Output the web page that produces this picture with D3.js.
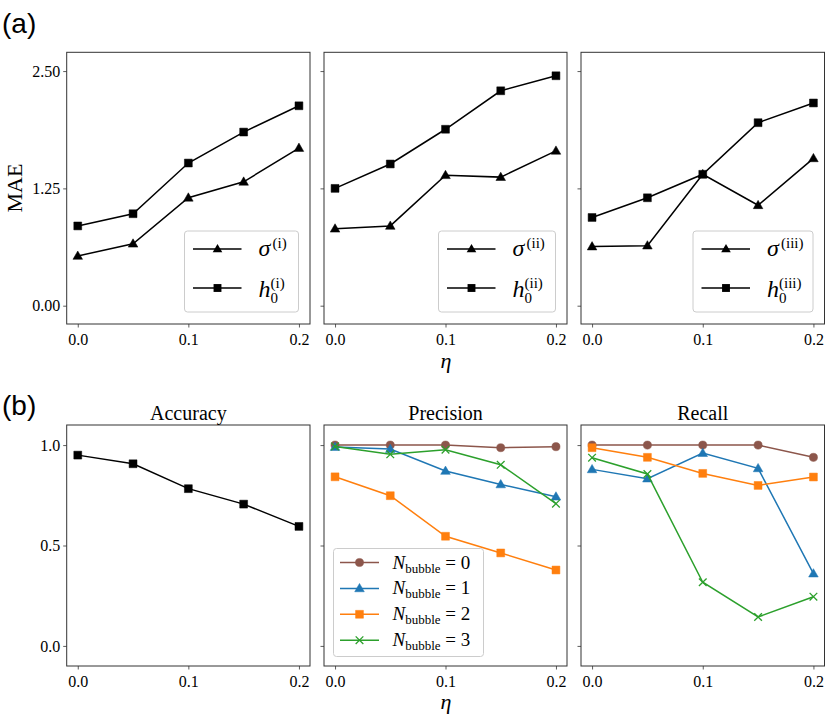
<!DOCTYPE html>
<html><head><meta charset="utf-8">
<script src="https://cdn.jsdelivr.net/npm/d3@7"></script>
<style>body{margin:0;background:#fff}svg{display:block}</style>
</head><body>
<svg id="c" width="830" height="717"></svg>
<script>
// ---- data ----
const etas = [0, 0.05, 0.1, 0.15, 0.2];
const xTicks = [0, 0.1, 0.2];
const maeTicks = [0, 1.25, 2.5];
const scoreTicks = [0, 0.5, 1.0];
const romans = ["i", "ii", "iii"];

const sigmaMAE1 = [0.53, 0.66, 1.15, 1.32, 1.68];
const h0MAE1    = [0.85, 0.98, 1.52, 1.85, 2.13];
const sigmaMAE2 = [0.82, 0.85, 1.39, 1.37, 1.65];
const h0MAE2    = [1.25, 1.51, 1.88, 2.29, 2.45];
const sigmaMAE3 = [0.63, 0.64, 1.40, 1.07, 1.57];
const h0MAE3    = [0.94, 1.15, 1.40, 1.95, 2.16];

const accuracy = [0.95, 0.907, 0.783, 0.706, 0.595];

const nBubble = [0, 1, 2, 3];
const precision0 = [1.0, 1.0, 1.0, 0.987, 0.992];
const precision1 = [0.99, 0.98, 0.871, 0.804, 0.743];
const precision2 = [0.842, 0.748, 0.546, 0.463, 0.378];
const precision3 = [0.993, 0.954, 0.977, 0.902, 0.708];
const recall0 = [1.0, 1.0, 1.0, 1.0, 0.939];
const recall1 = [0.879, 0.833, 0.96, 0.884, 0.36];
const recall2 = [0.987, 0.939, 0.859, 0.799, 0.841];
const recall3 = [0.937, 0.856, 0.317, 0.144, 0.245];

const seriesColors = ["#8c564b", "#1f77b4", "#ff7f0e", "#2ca02c"];

// ---- layout ----
const svg = d3.select("#c");
const SERIF = "'Liberation Serif','DejaVu Serif',serif";
const SANS = "'Liberation Sans',Arial,sans-serif";
const panelX = [[66.7, 310], [324, 567], [581, 824.5]];
const topY = [52.3, 324];
const botY = [425, 666];

const x = d3.scaleLinear().domain([-0.01, 0.21]);
const fmtX = d3.format(".1f");

function drawAxes(g, xs, ys, yticks, yfmt, showY) {
  const xa = g.append("g").attr("transform", `translate(0,${ys.range()[0]})`)
    .call(d3.axisBottom(xs).tickValues(xTicks).tickFormat(fmtX).tickSize(3.5).tickPadding(4));
  const ya = g.append("g").attr("transform", `translate(${xs.range()[0]},0)`)
    .call(d3.axisLeft(ys).tickValues(yticks).tickFormat(showY ? yfmt : () => "").tickSize(3.5).tickPadding(3));
  [xa, ya].forEach(a => {
    a.attr("font-family", SERIF).attr("font-size", 16);
    a.select(".domain").remove();
    a.selectAll(".tick line").attr("stroke", "#333").attr("stroke-width", 0.8);
    a.selectAll("text").style("font-family", SERIF).style("font-size", "16px").attr("fill", "#000");
  });
  xa.selectAll("text").attr("dy", "0.85em");
  const [x0, x1] = xs.range(), [y0, y1] = ys.range();
  g.append("rect").attr("x", x0).attr("y", y1).attr("width", x1 - x0).attr("height", y0 - y1)
    .attr("fill", "none").attr("stroke", "#333").attr("stroke-width", 1);
}

function series(g, xs, ys, vals, color, sym, symSize, stroke) {
  const line = d3.line().x((d, i) => xs(etas[i])).y(d => ys(d));
  g.append("path").datum(vals).attr("d", line).attr("fill", "none").attr("stroke", color).attr("stroke-width", 1.5);
  g.selectAll(null).data(vals).enter().append("path")
    .attr("transform", (d, i) => `translate(${xs(etas[i])},${ys(d)})`)
    .attr("d", d3.symbol().type(sym).size(symSize))
    .attr("fill", stroke ? "none" : color).attr("stroke", color).attr("stroke-width", stroke ? 1.3 : 0.5);
}

const triSym = { draw(ctx, size) { const s = Math.sqrt(size) * 1.0; ctx.moveTo(0, -s*0.62); ctx.lineTo(s*0.6, s*0.42); ctx.lineTo(-s*0.6, s*0.42); ctx.closePath(); } };

// ---- (a) MAE ----
const maeData = [[sigmaMAE1, h0MAE1], [sigmaMAE2, h0MAE2], [sigmaMAE3, h0MAE3]];
const yMAE = d3.scaleLinear().domain([-0.195, 2.70]).range([topY[1], topY[0]]);
panelX.forEach((px, k) => {
  const xs = x.copy().range(px);
  const g = svg.append("g");
  drawAxes(g, xs, yMAE, maeTicks, d3.format(".2f"), k === 0);
  series(g, xs, yMAE, maeData[k][0], "#000", triSym, 64, false);
  series(g, xs, yMAE, maeData[k][1], "#000", d3.symbolSquare, 62, false);
  // legend
  const lw = [114, 117, 120][k];
  const lx = px[1] - 11.5 - lw, ly = 231;
  const lg = g.append("g").attr("transform", `translate(${lx},${ly})`);
  lg.append("rect").attr("width", lw).attr("height", 81).attr("rx", 3)
    .attr("fill", "#fff").attr("fill-opacity", 0.8).attr("stroke", "#ccc").attr("stroke-width", 1);
  [[triSym, 64, 18], [d3.symbolSquare, 62, 57]].forEach(([sym, sz, ry]) => {
    lg.append("line").attr("x1", 8.5).attr("x2", 57).attr("y1", ry).attr("y2", ry).attr("stroke", "#000").attr("stroke-width", 1.5);
    lg.append("path").attr("transform", `translate(33,${ry})`).attr("d", d3.symbol().type(sym).size(sz)).attr("fill", "#000");
  });
  const tx = 74;
  lg.append("text").attr("x", tx).attr("y", 25).attr("font-family", SERIF).attr("font-style", "italic").attr("font-size", 24).text("σ");
  lg.append("text").attr("x", tx + 14).attr("y", 17).attr("font-family", SERIF).attr("font-size", 15).text(`(${romans[k]})`);
  const hg = lg.append("text").attr("x", tx).attr("y", 66).attr("font-family", SERIF).attr("font-size", 15);
  hg.append("tspan").attr("font-style", "italic").attr("font-size", 24).text("h");
  hg.append("tspan").attr("dy", 6).text("0");
  lg.append("text").attr("x", tx + 12).attr("y", 57).attr("font-family", SERIF).attr("font-size", 15).text(`(${romans[k]})`);
});
svg.append("text").attr("transform", "translate(22,188) rotate(-90)").attr("text-anchor", "middle")
  .attr("font-family", SERIF).attr("font-size", 22).text("MAE");
svg.append("text").attr("x", 446).attr("y", 368).attr("text-anchor", "middle")
  .attr("font-family", SERIF).attr("font-style", "italic").attr("font-size", 22).text("η");
svg.append("text").attr("x", 2).attr("y", 33).attr("font-family", SANS).attr("font-size", 28).text("(a)");

// ---- (b) scores ----
const yS = d3.scaleLinear().domain([-0.1, 1.1]).range([botY[1], botY[0]]);
const titles = ["Accuracy", "Precision", "Recall"];
const precisionData = [precision0, precision1, precision2, precision3];
const recallData = [recall0, recall1, recall2, recall3];
const syms = [d3.symbolCircle, triSym, d3.symbolSquare, d3.symbolTimes];
const symSizes = [52, 64, 62, 40];
panelX.forEach((px, k) => {
  const xs = x.copy().range(px);
  const g = svg.append("g");
  drawAxes(g, xs, yS, scoreTicks, d3.format(".1f"), k === 0);
  g.append("text").attr("x", (px[0] + px[1]) / 2).attr("y", 420).attr("text-anchor", "middle")
    .attr("font-family", SERIF).attr("font-size", 20).text(titles[k]);
  if (k === 0) {
    series(g, xs, yS, accuracy, "#000", d3.symbolSquare, 62, false);
  } else {
    const data = k === 1 ? precisionData : recallData;
    nBubble.forEach((n, i) => series(g, xs, yS, data[i], seriesColors[i], syms[i], symSizes[i], i === 3));
  }
});
// legend in Precision panel
const lg2 = svg.append("g").attr("transform", "translate(333.5,548.5)");
lg2.append("rect").attr("width", 150).attr("height", 108).attr("rx", 3)
  .attr("fill", "#fff").attr("fill-opacity", 0.8).attr("stroke", "#ccc").attr("stroke-width", 1);
nBubble.forEach((n, i) => {
  const ry = 14 + i * 25.9;
  lg2.append("line").attr("x1", 6.5).attr("x2", 45.5).attr("y1", ry).attr("y2", ry).attr("stroke", seriesColors[i]).attr("stroke-width", 1.5);
  lg2.append("path").attr("transform", `translate(26,${ry})`).attr("d", d3.symbol().type(syms[i]).size(symSizes[i]))
    .attr("fill", i === 3 ? "none" : seriesColors[i]).attr("stroke", seriesColors[i]).attr("stroke-width", i === 3 ? 1.3 : 0.5);
  const t = lg2.append("text").attr("x", 59).attr("y", ry + 6).attr("font-family", SERIF).attr("font-size", 19);
  t.append("tspan").attr("font-style", "italic").text("N");
  t.append("tspan").attr("font-size", 13).attr("dy", 4).text("bubble");
  t.append("tspan").attr("dy", -4).text(" = " + n);
});
svg.append("text").attr("x", 446).attr("y", 709).attr("text-anchor", "middle")
  .attr("font-family", SERIF).attr("font-style", "italic").attr("font-size", 22).text("η");
svg.append("text").attr("x", 2).attr("y", 415).attr("font-family", SANS).attr("font-size", 28).text("(b)");
</script>
</body></html>
